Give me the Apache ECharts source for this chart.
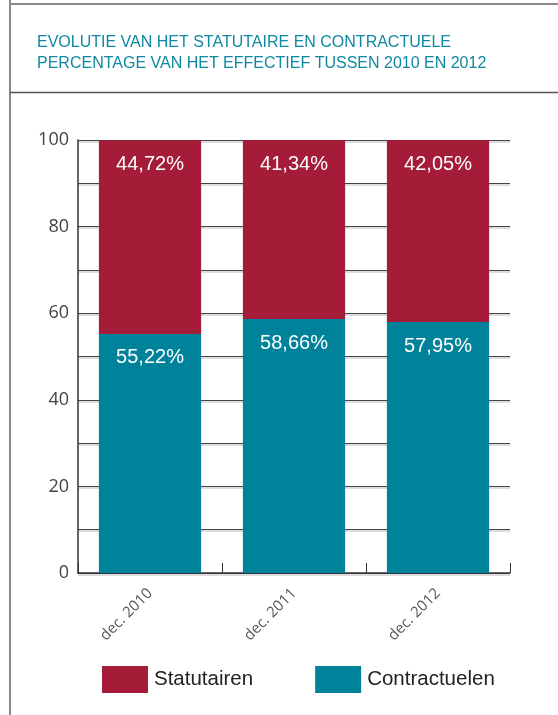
<!DOCTYPE html>
<html><head><meta charset="utf-8">
<script src="https://cdn.jsdelivr.net/npm/echarts@6/dist/echarts.min.js"></script>
<style>html,body{margin:0;padding:0;background:#fff}#c{width:558px;height:715px}</style>
</head><body><div id="c"></div>
<script>
const categories = ['dec. 2010', 'dec. 2011', 'dec. 2012'];
const contractuelen = [55.22, 58.66, 57.95];
const statutairen = [44.72, 41.34, 42.05];
const yTicks = [0, 20, 40, 60, 80, 100];
const titleLines = ['EVOLUTIE VAN HET STATUTAIRE EN CONTRACTUELE', 'PERCENTAGE VAN HET EFFECTIEF TUSSEN 2010 EN 2012'];

const fmt = v => v.toFixed(2).replace('.', ',') + '%';
const chart = echarts.init(document.getElementById('c'));
chart.setOption({
  animation: false,
  title: {
    text: titleLines.join('\n'), left: 32, top: 27,
    textStyle: { color: '#0E89A1', fontFamily: 'Liberation Sans', fontSize: 16, fontWeight: 'normal', lineHeight: 21 }
  },
  graphic: [
    { type: 'line', shape: { x1: 10, y1: 0, x2: 10, y2: 715 }, style: { stroke: '#8a8a8a', lineWidth: 2 } },
    { type: 'line', shape: { x1: 10, y1: 4, x2: 558, y2: 4 }, style: { stroke: '#8a8a8a', lineWidth: 2 } },
    { type: 'line', shape: { x1: 10, y1: 92.5, x2: 558, y2: 92.5 }, style: { stroke: '#555', lineWidth: 1.5 } }
  ],
  legend: {
    left: 97, top: 661, itemWidth: 46, itemHeight: 27, itemGap: 62,
    icon: 'rect',
    textStyle: { fontFamily: 'Liberation Sans', fontSize: 20.5, color: '#222', padding: [0, 0, 0, 1] },
    data: ['Statutairen', 'Contractuelen']
  },
  grid: { left: 78, right: 48, top: 140, bottom: 142 },
  xAxis: {
    type: 'category', data: categories,
    axisLine: { lineStyle: { color: '#333', width: 1.5 } },
    axisTick: { show: true, inside: true, length: 10, lineStyle: { color: '#333' } },
    axisLabel: { rotate: 45, margin: 18, color: '#555', fontFamily: 'Open Sans', fontSize: 15 }
  },
  yAxis: {
    type: 'value', min: 0, max: 100, interval: 10,
    axisLine: { show: true, lineStyle: { color: '#333', width: 1.5 } },
    axisTick: { show: false },
    axisLabel: {
      margin: 9, color: '#444', fontFamily: 'Open Sans', fontSize: 18, padding: [0, 0, 8, 0],
      formatter: v => (yTicks.indexOf(v) >= 0 ? String(v) : '')
    },
    splitLine: { lineStyle: { color: '#444', width: 1.2, shadowColor: '#bbb', shadowOffsetY: 1.5, shadowBlur: 0 } }
  },
  series: [
    {
      name: 'Contractuelen', type: 'bar', stack: 't', data: contractuelen, barWidth: '71%',
      itemStyle: { color: '#00829B' },
      label: { show: true, position: 'insideTop', distance: 14, color: '#fff', fontFamily: 'Liberation Sans', fontSize: 20, formatter: p => fmt(p.value) }
    },
    {
      name: 'Statutairen', type: 'bar', stack: 't', data: statutairen, barWidth: '71%',
      itemStyle: { color: '#A51C38' },
      label: { show: true, position: 'insideTop', distance: 14, color: '#fff', fontFamily: 'Liberation Sans', fontSize: 20, formatter: p => fmt(p.value) }
    }
  ]
});
</script></body></html>
